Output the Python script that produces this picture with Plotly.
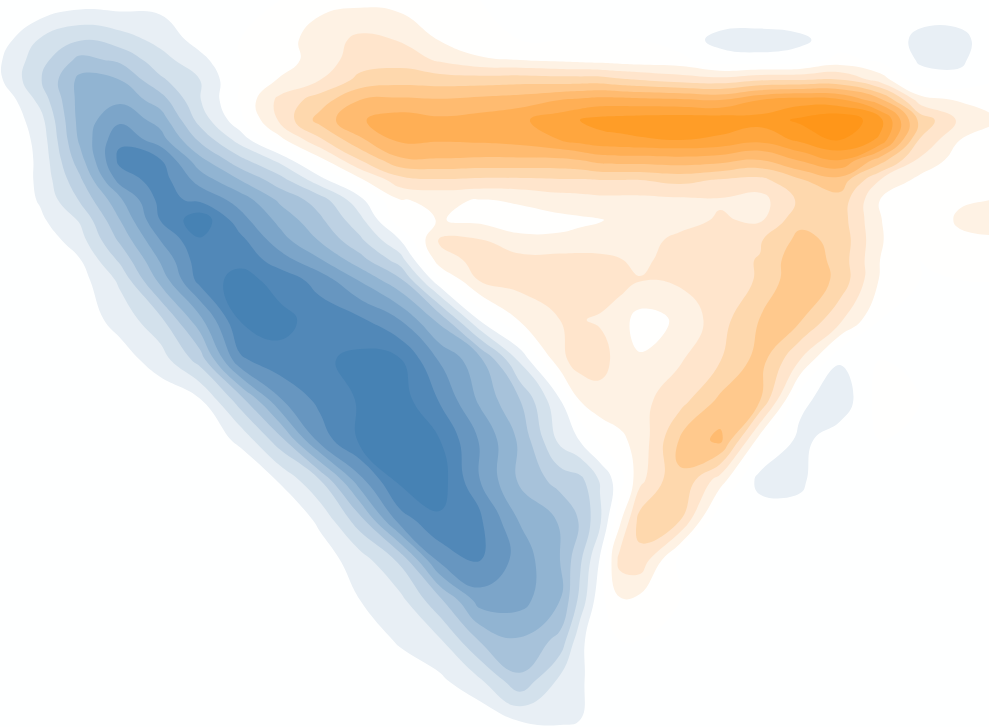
import plotly.graph_objects as go

x_grid = [0,40,80,120,160,200,240,280,320,360,400,440,480,520,560,580,600,620,640,680,720,760,800,840,880,920,960,1000]
y_grid = [0,40,60,80,100,120,140,160,180,200,220,240,260,280,320,360,400,440,480,520,560,600,640,680,720,760]

d000 = [0,0,-.4,-.4,-.6,0,0,0,.7,.7,.55,.2,0,0,0,0,0,0,0,0,0,0,0,0,0,0,0,0]
d040 = [-.5,-2.1,-2.95,-2.5,-1.7,-.6,0,.6,1.45,2.25,1.95,.95,.1,0,0,0,0,0,0,-.5,-1.3,-1.4,-1.2,-.5,0,-1.4,-1.4,0]
d060 = [-.9,-2.6,-4.3,-3.8,-2.4,-1.3,0,.5,1.5,2.5,2.6,1.85,1.2,1,.8,.7,.6,.5,.4,.3,-.6,-.75,-.6,.3,-.2,-1.1,-1.2,0]
d080 = [-.85,-2.9,-5.3,-5,-3.2,-2,0,1.1,2,3.3,3.6,3.5,3.5,3.6,3.5,3.5,3.5,3.2,3,2.6,2.4,2.9,3,3.1,1.6,-.7,-.7,0]
d100 = [-.1,-2.3,-5.4,-5.8,-4.5,-2.05,.1,2.3,3.5,5,5.2,5.1,5.3,5.5,6,6.2,6.4,6.4,6.3,6.2,6,7,7.5,7.2,5.3,1.5,.9,.7]
d120 = [0,-1.6,-5.4,-6.8,-5.6,-2.6,-.3,2.2,4.4,5.9,6.5,6.2,6.4,6.8,7.6,8,8.3,8.4,8.5,8.6,8.6,8.4,9.2,9.8,8.4,3.7,1.8,.9]
d140 = [0,-1.3,-5.2,-7.8,-6.5,-3.8,-1.6,.7,2.8,4.8,6.2,6.1,6.2,6.4,7,7.4,7.7,7.8,7.9,8,7.8,7.3,8.2,9.1,7.8,2.9,1,.3]
d160 = [0,-1.2,-4.6,-8.3,-8.1,-5.3,-3.3,-1.7,.7,3,4.8,4.9,4.8,4.8,4.8,5,5.4,5.5,5.5,5.6,5.4,4.9,6.1,7,4.5,1.8,.5,0]
d180 = [0,-1.2,-3.8,-7.4,-8.5,-6.6,-5,-3.4,-1.4,.8,2.6,2.9,2.8,2.8,2.9,2.9,3,3,3,3.3,2.9,2.7,3.9,4.6,2,.7,.2,.6]
d200 = [0,-1.1,-3.1,-5.8,-8.3,-7.8,-6.6,-4.8,-3.5,-1.3,.95,1.15,.95,1.1,1.5,1.6,1.7,1.7,1.7,1.8,1.9,1.6,3.2,3.6,1,0,.85,1.05]
d220 = [0,-.8,-2.1,-5,-8,-9.7,-7.4,-5.7,-4.2,-2.3,.6,1.05,.75,.7,.75,.85,.95,1.2,1.4,1.7,2.1,1.85,3.7,3.5,1.05,0,1.2,1.5]
d240 = [0,-.3,-1.6,-4.2,-7,-8.9,-8.3,-6.4,-4.9,-3.2,-1,2.15,2.05,1.15,1.15,1.25,1.35,1.4,1.7,2.2,2.9,2.9,4.3,3.7,1.1,0,.75,.85]
d260 = [0,0,-.95,-3.2,-6.1,-8.6,-8.7,-7.5,-6.1,-4.4,-2.5,1.6,2.3,2.4,2.4,2.4,2.3,2.05,1.8,2.4,2.7,3.05,4.8,3.6,1,0,.3,.5]
d280 = [0,0,-.6,-2.2,-5.3,-8.4,-9.4,-8.6,-7.6,-5.9,-4.2,-.2,2.1,2.4,2.9,2.7,2.5,2.4,2.05,2.2,2.5,3.1,4.9,3.7,.9,0,0,0]
d320 = [0,0,-.4,-1.4,-2.7,-5.7,-9.05,-9.3,-8.6,-8.2,-7,-4.7,-.9,1.1,2,2.05,1.9,1.4,.6,1.15,2.6,4.05,4.1,2.2,0,0,0,0]
d360 = [0,0,0,-.5,-1.5,-3.4,-7.8,-8.7,-8.8,-9.3,-9.1,-6.9,-5.3,-1.8,1.7,2.5,2.4,1.6,1.1,1.9,2.95,4.4,2,-.9,0,0,0,0]
d400 = [0,0,0,0,-.3,-.9,-3.5,-6.9,-8.3,-9.1,-9.5,-7.9,-5.8,-4,-1.05,1.05,1.6,1.55,1.7,2.6,4.2,4.05,-.7,-1.7,.4,0,0,0]
d440 = [0,0,0,0,0,-.3,-1.2,-3.6,-7.4,-9.2,-9.5,-9,-6.9,-4.8,-1.7,-.95,.2,.8,1.35,4.1,5.3,.5,-1.3,-.4,0,0,0,0]
d480 = [0,0,0,0,0,0,-.1,-1.1,-3,-6.7,-9.3,-9.5,-7,-4.8,-3.6,-3.3,-1.9,-.4,1.7,3.95,1.5,-1.4,-1.2,0,0,0,0,0]
d520 = [0,0,0,0,0,0,0,-.1,-1.2,-3.6,-7.5,-8.85,-8.2,-5.9,-4.9,-3.9,-2.2,.8,3.4,3.05,-.9,-.3,-.6,0,0,0,0,0]
d560 = [0,0,0,0,0,0,0,0,-.5,-1.5,-3.2,-7.3,-8.1,-6.6,-5,-3.2,-.9,2.4,2.7,-.4,0,0,0,0,0,0,0,0]
d600 = [0,0,0,0,0,0,0,0,0,-1,-1.7,-3.8,-6.5,-6.4,-5,-2.7,-.3,.9,.7,0,0,0,0,0,0,0,0,0]
d640 = [0,0,0,0,0,0,0,0,0,-.1,-1.2,-1.9,-4.1,-4.9,-3.7,-1.3,-.1,0,0,0,0,0,0,0,0,0,0,0]
d680 = [0,0,0,0,0,0,0,0,0,0,-.1,-.8,-1.9,-3.8,-1.8,-1.15,-.5,0,0,0,0,0,0,0,0,0,0,0]
d720 = [0,0,0,0,0,0,0,0,0,0,0,0,-.2,-1.05,-1.1,-1,-.3,0,0,0,0,0,0,0,0,0,0,0]
d760 = [0,0,0,0,0,0,0,0,0,0,0,0,0,-.1,-.3,-.2,0,0,0,0,0,0,0,0,0,0,0,0]

density = [d000,d040,d060,d080,d100,d120,d140,d160,d180,d200,d220,d240,d260,d280,d320,d360,d400,d440,d480,d520,d560,d600,d640,d680,d720,d760]

blue_bands = ["#e9f0f6","#d6e3ed","#c1d4e4","#acc5dc","#97b8d5","#82a9cc","#6f9cc3","#5a8cbb","#4682b4"]
orange_bands = ["#fef3e6","#ffe7d0","#fedbb3","#ffcc93","#ffbf78","#ffb25d","#ffa845","#ffa233","#ff9619"]

scale = [[0, blue_bands[-1]]]
for k in range(9, 0, -1):
    scale.append([(10 - (k + .5)) / 20, blue_bands[k - 1]])
scale += [[.475, "#ffffff"], [.525, "#ffffff"]]
for k in range(1, 10):
    scale.append([(10 + k + .5) / 20, orange_bands[k - 1]])
scale.append([1, orange_bands[-1]])

fig = go.Figure(go.Contour(
    x=x_grid, y=y_grid, z=density,
    zmin=-10, zmax=10, colorscale=scale, showscale=False,
    contours=dict(start=-9, end=9, size=1, coloring="fill", showlines=False),
    line=dict(width=0, smoothing=1.3),
    hoverinfo="skip",
))
fig.update_layout(
    width=989, height=727,
    margin=dict(l=0, r=0, t=0, b=0),
    paper_bgcolor="white", plot_bgcolor="white",
    xaxis=dict(range=[0, 989], visible=False),
    yaxis=dict(range=[727, 0], visible=False),
)
fig.write_html("out.html", config=dict(displayModeBar=False),
               post_script="document.body.style.margin='0';")
